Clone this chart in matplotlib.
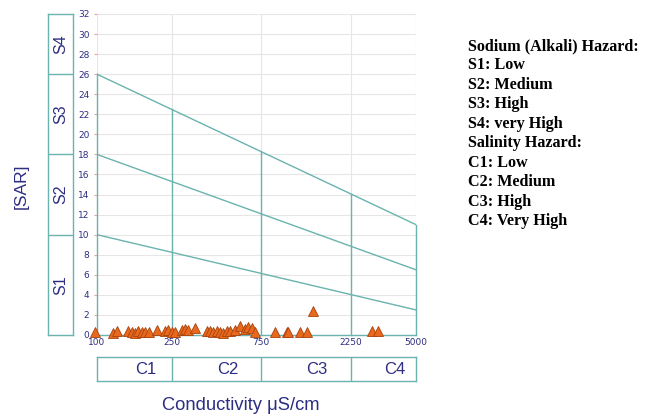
import matplotlib
matplotlib.use("Agg")
import matplotlib.pyplot as plt
import numpy as np

# ---- data ----
conductivity = [98, 122, 128, 146, 154, 159, 165, 174, 180, 189, 209, 230, 239, 251, 260,
                284, 294, 305, 333, 386, 400, 415, 436, 452, 469, 493, 511, 544, 578, 615,
                638, 670, 695, 888, 1028, 1041, 1207, 1315, 1415, 2918, 3141]
sar = [0.3, 0.2, 0.35, 0.4, 0.3, 0.2, 0.35, 0.25, 0.3, 0.3, 0.45, 0.35, 0.45, 0.3, 0.25,
       0.45, 0.6, 0.5, 0.65, 0.35, 0.4, 0.3, 0.4, 0.25, 0.2, 0.35, 0.4, 0.5, 0.85, 0.6,
       0.8, 0.7, 0.3, 0.3, 0.3, 0.3, 0.3, 0.3, 2.4, 0.35, 0.35]

x_ticks = [100, 250, 750, 2250, 5000]
y_ticks = list(range(0, 33, 2))

# SAR boundary lines: value at 100 and at 5000 uS/cm
line_start = [10, 18, 26]
line_end = [2.5, 6.5, 11]

s_bounds = [0, 10, 18, 26, 32]
s_labels = ["S1", "S2", "S3", "S4"]
c_bounds = [100, 250, 750, 2250, 5000]
c_labels = ["C1", "C2", "C3", "C4"]

legend_lines = ["Sodium (Alkali) Hazard:", "S1: Low", "S2: Medium", "S3: High",
                "S4: very High", "Salinity Hazard:", "C1: Low", "C2: Medium",
                "C3: High", "C4: Very High"]

teal = "#6ab3ae"
navy = "#2d2d82"
grid = "#e6e6e6"
sans = ["Liberation Sans", "DejaVu Sans"]

W, H = 656, 419
fig = plt.figure(figsize=(W / 100, H / 100), dpi=100)

left, right, top, bottom = 97, 416, 14, 335
ax = fig.add_axes([left / W, 1 - bottom / H, (right - left) / W, (bottom - top) / H])
ax.set_xscale("log")
ax.set_xlim(100, 5000)
ax.set_ylim(0, 32)
for s in ax.spines.values():
    s.set_visible(False)

# grid
for y in y_ticks:
    ax.axhline(y, color=grid, lw=0.8, zorder=0)
for x in x_ticks:
    ax.axvline(x, color=grid, lw=0.8, zorder=0)

# boundary lines
xmin, xmax = 100, 5000
def top_line(x):
    t = (np.log10(x) - np.log10(xmin)) / (np.log10(xmax) - np.log10(xmin))
    return line_start[2] + (line_end[2] - line_start[2]) * t

for a, b in zip(line_start, line_end):
    ax.plot([xmin, xmax], [a, b], color=teal, lw=1.0, zorder=2)
for x in c_bounds:
    ax.plot([x, x], [0, top_line(x)], color=teal, lw=1.0, zorder=2, clip_on=False)
ax.plot([xmin, xmax], [0, 0], color=teal, lw=1.0, zorder=2, clip_on=False)

# points
ax.plot(conductivity, sar, linestyle="none", marker="^", markersize=6.5,
        markerfacecolor="#e8681c", markeredgecolor="#a8420e", markeredgewidth=0.6,
        zorder=5, clip_on=False)

ax.set_xticks(x_ticks)
ax.set_xticklabels([str(v) for v in x_ticks])
ax.xaxis.set_minor_locator(matplotlib.ticker.NullLocator())
ax.set_yticks(y_ticks)
ax.set_yticklabels([str(v) for v in y_ticks])
ax.tick_params(axis="both", labelsize=6.5, labelcolor=navy, length=2.5, color="#e8a0a0")
ax.tick_params(axis="y", pad=3)
ax.tick_params(axis="x", pad=2, length=0)

# S boxes
axs = fig.add_axes([48 / W, 1 - bottom / H, 25 / W, (bottom - top) / H])
axs.set_ylim(0, 32)
axs.set_xlim(0, 1)
axs.set_xticks([]); axs.set_yticks([])
for s in axs.spines.values():
    s.set_color(teal); s.set_linewidth(1.0)
for b in s_bounds[1:-1]:
    axs.axhline(b, color=teal, lw=1.0)
for lab, lo, hi in zip(s_labels, s_bounds[:-1], s_bounds[1:]):
    axs.text(0.5, (lo + hi) / 2, lab, rotation=90, ha="center", va="center",
             fontsize=11.5, color=navy, family=sans)

# C boxes
axc = fig.add_axes([left / W, 1 - 381 / H, (right - left) / W, 24 / H])
axc.set_xscale("log")
axc.set_xlim(100, 5000)
axc.set_ylim(0, 1)
axc.set_xticks([]); axc.set_yticks([])
axc.xaxis.set_minor_locator(matplotlib.ticker.NullLocator())
for s in axc.spines.values():
    s.set_color(teal); s.set_linewidth(1.0)
for b in c_bounds[1:-1]:
    axc.axvline(b, color=teal, lw=1.0)
for lab, lo, hi in zip(c_labels, c_bounds[:-1], c_bounds[1:]):
    axc.annotate(lab, xy=(np.sqrt(lo * hi), 0.5), xytext=(8, 0), textcoords="offset points",
                 ha="center", va="center", fontsize=12, color=navy, family=sans)

# axis labels
fig.text(21 / W, 1 - 186 / H, "[SAR]", rotation=90, ha="center", va="center",
         fontsize=12.5, color=navy, family=sans)
fig.text(241 / W, 1 - 405 / H, "Conductivity \u03bcS/cm", ha="center", va="center",
         fontsize=13.2, color=navy, family=sans)

# legend text
for i, t in enumerate(legend_lines):
    fig.text(468 / W, 1 - (46 + i * 19.45) / H, t, ha="left", va="center",
             fontsize=11.6, fontweight="bold", family=["Liberation Serif", "DejaVu Serif"],
             color="black")

fig.savefig("out.png", dpi=100)
